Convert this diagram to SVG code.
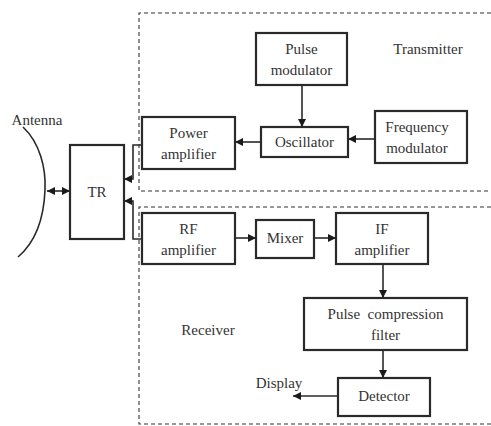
<svg xmlns="http://www.w3.org/2000/svg" width="491" height="426" viewBox="0 0 491 426">
<style>
.box{fill:#fff;stroke:#2a2a2a;stroke-width:2.2}
.dash{fill:none;stroke:#333;stroke-width:1.1;stroke-dasharray:4 3}
text{font-family:'Liberation Serif','Times New Roman',Times,serif;font-size:15px;fill:#333;text-anchor:middle}
.c{fill:none;stroke:#2a2a2a;stroke-width:1.6}
</style>
<defs>
<marker id="ah" viewBox="0 0 10 10" refX="10" refY="5" markerWidth="8" markerHeight="8" markerUnits="userSpaceOnUse" orient="auto-start-reverse">
<path d="M0,0 L10,5 L0,10 z" fill="#1a1a1a"/>
</marker>
</defs>
<rect width="491" height="426" fill="#fff"/>
<g id="sections">
<path class="dash" d="M491,13 H139 V191 H491"/>
<path class="dash" d="M491,207 H139 V424 H491"/>
<text x="428" y="54">Transmitter</text>
<text x="208" y="335">Receiver</text>
</g>
<g id="antenna">
<path d="M23,127 C40,143 46,168 45,190 C44,215 38,240 18,257" fill="none" stroke="#2a2a2a" stroke-width="1.6"/>
<text x="37" y="125">Antenna</text>
</g>
<g id="tr"><rect class="box" x="70" y="145" width="54" height="94"/><text x="97" y="197">TR</text></g>
<g id="power-amplifier"><rect class="box" x="142" y="117" width="93" height="52"/><text x="188.5" y="138">Power</text><text x="188.5" y="159">amplifier</text></g>
<g id="pulse-modulator"><rect class="box" x="256" y="33" width="91" height="52"/><text x="301.5" y="54">Pulse</text><text x="301.5" y="75">modulator</text></g>
<g id="oscillator"><rect class="box" x="261" y="127" width="87" height="30"/><text x="304.5" y="147">Oscillator</text></g>
<g id="frequency-modulator"><rect class="box" x="375" y="111" width="92" height="52"/><text x="417" y="132">Frequency</text><text x="417" y="153">modulator</text></g>
<g id="rf-amplifier"><rect class="box" x="142" y="213" width="93" height="51"/><text x="188.5" y="234">RF</text><text x="188.5" y="255">amplifier</text></g>
<g id="mixer"><rect class="box" x="256" y="220" width="58" height="38"/><text x="285" y="243">Mixer</text></g>
<g id="if-amplifier"><rect class="box" x="336" y="213" width="92" height="51"/><text x="382" y="234">IF</text><text x="382" y="255">amplifier</text></g>
<g id="pulse-compression-filter"><rect class="box" x="304" y="298" width="163" height="52"/><text x="385.5" y="319" xml:space="preserve">Pulse  compression</text><text x="385.5" y="340">filter</text></g>
<g id="detector"><rect class="box" x="338" y="378" width="92" height="38"/><text x="384" y="401">Detector</text></g>
<text x="279" y="388">Display</text>
<g id="connectors">
<path class="c" d="M47,191 H70" marker-start="url(#ah)" marker-end="url(#ah)"/>
<path class="c" d="M142,145 H133 V179 H124" marker-end="url(#ah)"/>
<path class="c" d="M142,239 H133 V201 H124" marker-end="url(#ah)"/>
<path class="c" d="M302,85 V127" marker-end="url(#ah)"/>
<path class="c" d="M375,139 H348" marker-end="url(#ah)"/>
<path class="c" d="M261,142 H235" marker-end="url(#ah)"/>
<path class="c" d="M235,238 H256" marker-end="url(#ah)"/>
<path class="c" d="M314,238 H336" marker-end="url(#ah)"/>
<path class="c" d="M383,264 V298" marker-end="url(#ah)"/>
<path class="c" d="M383,350 V378" marker-end="url(#ah)"/>
<path class="c" d="M338,396 H293" marker-end="url(#ah)"/>
</g>
</svg>
